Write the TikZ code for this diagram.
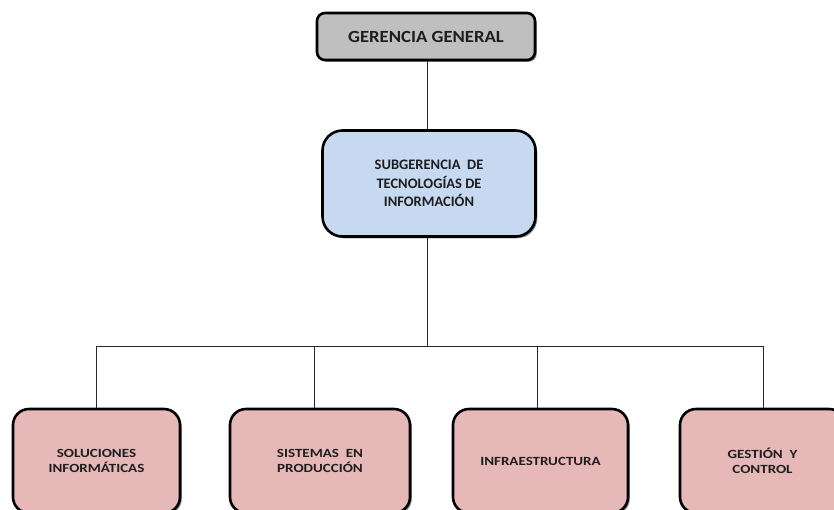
\documentclass[tikz,border=0pt]{standalone}
\usepackage{fontspec}
\setmainfont{Carlito}
\newfontfamily\wideA[FakeStretch=1.1]{Carlito}
\newfontfamily\wideB[FakeStretch=1.2]{Carlito}
\usetikzlibrary{shadows}
\definecolor{topgray}{RGB}{191,191,191}
\definecolor{midblue}{RGB}{198,217,241}
\definecolor{botpink}{RGB}{230,184,183}
\definecolor{txt}{RGB}{30,30,30}
\tikzset{
  box/.style={draw=black, line width=2.6pt, align=center, text=txt,
    drop shadow={shadow xshift=1.8pt, shadow yshift=-1.8pt, fill=black, opacity=0.45}},
  topbox/.style={box, fill=topgray, rounded corners=8pt, minimum width=218pt, minimum height=47pt,
    font=\wideA\bfseries\fontsize{17}{20}\selectfont},
  midbox/.style={box, fill=midblue, rounded corners=20pt, minimum width=213pt, minimum height=106pt,
    font=\bfseries\fontsize{14.5}{18.5}\selectfont},
  botbox/.style={box, fill=botpink, rounded corners=16pt, minimum height=104pt,
    font=\wideB\bfseries\fontsize{12.5}{15.5}\selectfont},
  conn/.style={draw=black!85, line width=1pt}
}
\begin{document}
\begin{tikzpicture}[x=1pt,y=-1pt]
\useasboundingbox (0,0) rectangle (834,509);
\begin{scope}
\clip (0,0) rectangle (834,509);
\node[topbox] (gg) at (426,36.5) {GERENCIA GENERAL};
\node[midbox] (sub) at (429,183.5) {SUBGERENCIA\ \ DE\\TECNOLOGÍAS DE\\INFORMACIÓN};
\node[botbox, minimum width=167pt] (b1) at (96.5,461) {SOLUCIONES\\INFORMÁTICAS};
\node[botbox, minimum width=180pt] (b2) at (320,461) {SISTEMAS\ \ EN\\PRODUCCIÓN};
\node[botbox, minimum width=175pt] (b3) at (540.5,461) {INFRAESTRUCTURA};
\node[botbox, minimum width=165pt] (b4) at (762.5,461) {GESTIÓN\ \ Y\\CONTROL};
\coordinate (j) at (427,346);
\coordinate (l1) at (96,346);
\coordinate (l2) at (314,346);
\coordinate (l3) at (537,346);
\coordinate (l4) at (763,346);
\draw[conn] (gg.south -| j) -- (sub.north -| j);
\draw[conn] (sub.south -| j) -- (j);
\draw[conn] (l1) -- (l4);
\draw[conn] (l1) -- (b1.north -| l1);
\draw[conn] (l2) -- (b2.north -| l2);
\draw[conn] (l3) -- (b3.north -| l3);
\draw[conn] (l4) -- (b4.north -| l4);
\end{scope}
\end{tikzpicture}
\end{document}
